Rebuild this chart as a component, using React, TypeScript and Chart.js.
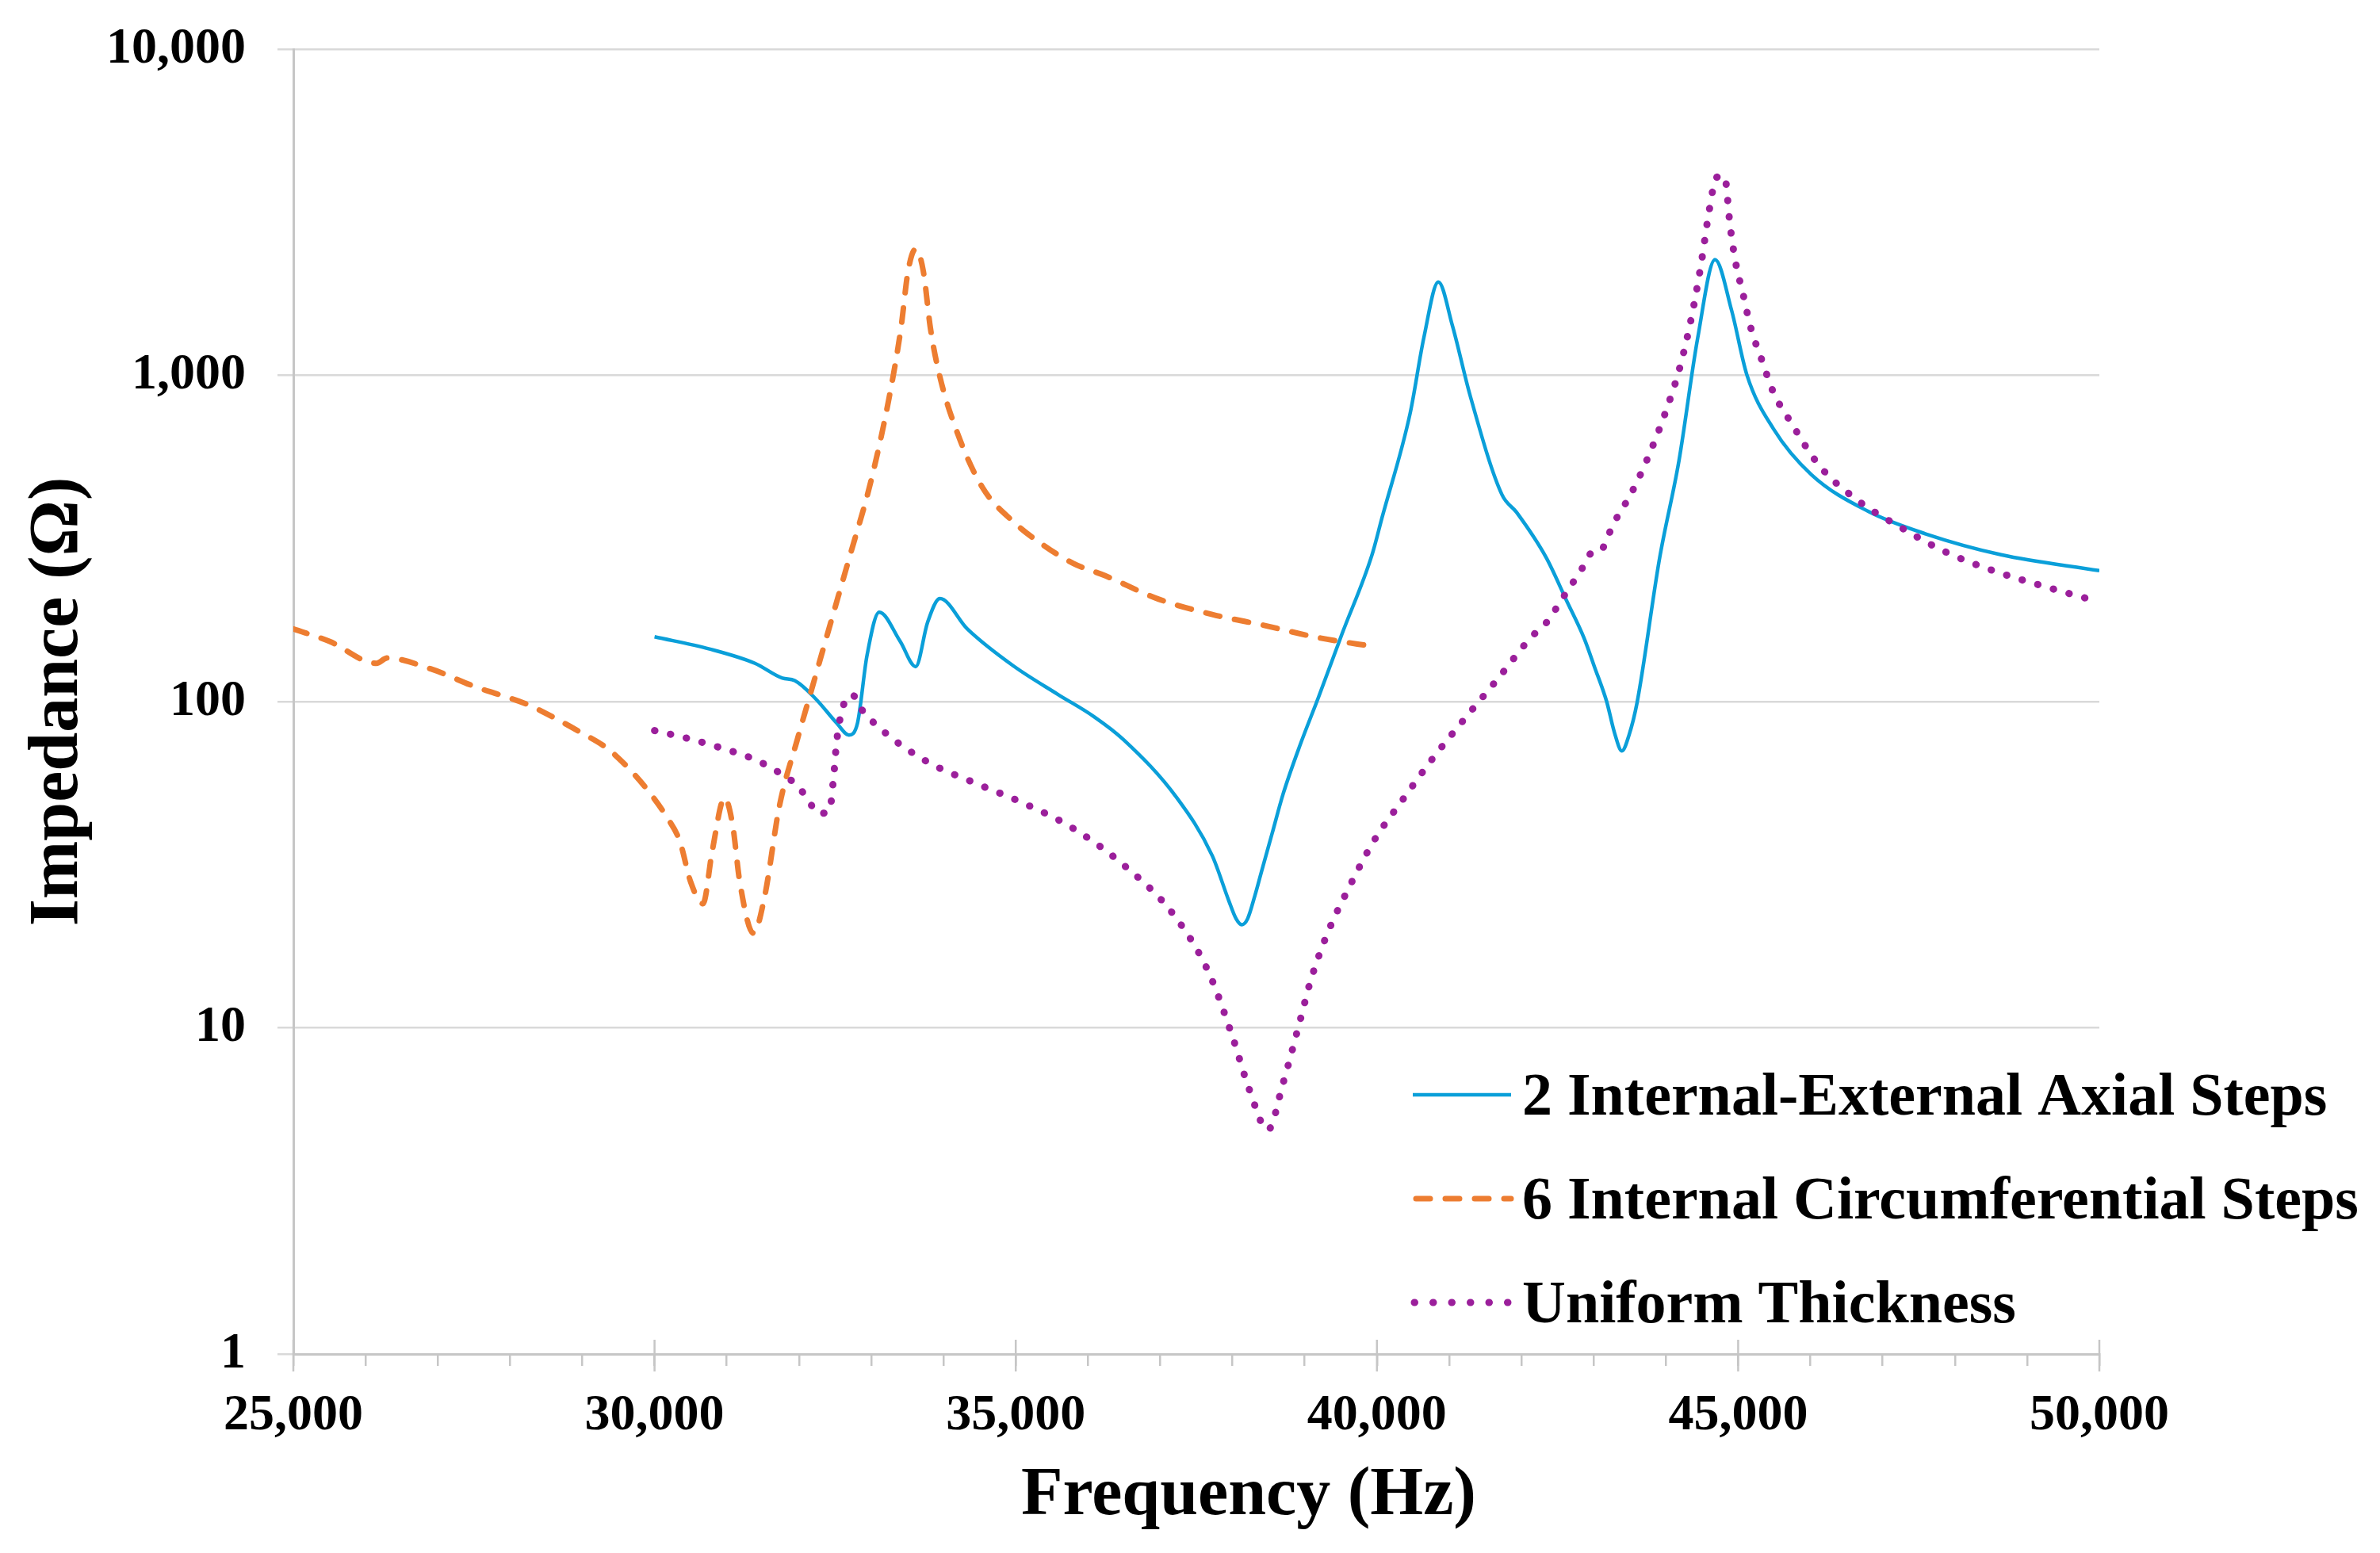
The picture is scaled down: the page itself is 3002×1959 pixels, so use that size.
import { useEffect, useRef } from "react"
import { Chart, registerables } from "chart.js"

Chart.register(...registerables)

const FONT = "'Liberation Serif', 'Times New Roman', serif"

// series names (legend order)
const seriesNames = [
  "2 Internal-External Axial Steps",
  "6 Internal Circumferential Steps",
  "Uniform Thickness",
]
const seriesColors = ["#0A9FD9", "#ED7D31", "#9B1F9B"]

// 2 Internal-External Axial Steps
const axialFreq = [
  30000, 30760, 31390, 31770, 31940, 32230, 32520, 32690, 32810, 32940, 33110, 33400, 33615, 33780,
  33950, 34330, 34960, 35590, 36080, 36490, 37230, 37720, 37950, 38050, 38130, 38210, 38310, 38400,
  38550, 38700, 38940, 39190, 39520, 39930, 40070, 40460, 40650, 40850, 41045, 41290, 41730, 41930,
  42340, 42620, 42870, 43010, 43180, 43290, 43390, 43490, 43600, 43915, 44180, 44440, 44680, 44910,
  45120, 45490, 46015, 46800, 47590, 48640, 50000,
]
const axialZ = [
  158, 145, 131, 118, 116, 102, 86, 79, 86, 138, 188, 153, 128, 175,
  207, 167, 129, 105, 90, 76.5, 50.7, 33.7, 24.5, 21.6, 20.7, 21.6, 25.4, 30,
  39.5, 52, 74, 103, 162, 281, 366, 766, 1307, 1933, 1420, 867, 431, 381,
  277, 205, 156, 128, 100, 80, 70.6, 79, 99, 277, 546, 1301, 2265, 1580,
  1005, 685, 496, 383, 327, 282, 252,
]

// 6 Internal Circumferential Steps
const circFreq = [
  25000, 25500, 26150, 26300, 26900, 27520, 27850, 28240, 28620, 28980, 29340, 29640, 29920, 30160,
  30350, 30500, 30670, 30800, 30970, 31080, 31180, 31370, 31520, 31730, 31980, 32190, 32440, 32690,
  32990, 33240, 33410, 33510, 33615, 33720, 33820, 33950, 34200, 34540, 34960, 35380, 35800, 36240,
  36980, 37720, 38450, 39190, 40000,
]
const circZ = [
  167, 153, 131, 136, 126, 111, 105, 98, 89, 80.4, 72, 62.5, 53, 44.6,
  37.3, 28, 24, 35, 50.7, 42, 28, 19.5, 25, 48, 77, 112, 175, 273,
  469, 838, 1390, 2090, 2440, 2090, 1390, 990, 659, 453, 357, 302, 265, 243,
  206, 185, 171, 157, 147,
]

// Uniform Thickness
const uniformFreq = [
  30000, 30470, 30930, 31390, 31790, 31980, 32120, 32270, 32420, 32480, 32520, 32600, 32735, 32860,
  33200, 33780, 34460, 35090, 35760, 36490, 37180, 37670, 38000, 38230, 38490, 38700, 38940, 39080,
  39320, 39620, 39960, 40370, 40780, 41240, 41680, 42140, 42340, 42580, 42840, 42970, 43075, 43280,
  43520, 43730, 43990, 44200, 44360, 44490, 44600, 44700, 44810, 44890, 44960, 45070, 45170, 45330,
  45490, 45730, 46120, 46640, 47250, 47880, 48530, 49220, 50000,
]
const uniformZ = [
  81.5, 77, 72, 66.4, 59.3, 55.2, 50.2, 45.4, 46.2, 59, 75, 95, 105, 95,
  80, 65.3, 56, 49, 41.3, 31.6, 22.3, 14.8, 9.4, 6.5, 4.86, 6.76, 10.6, 13.9,
  19.6, 27.1, 37.5, 50.5, 67.3, 90, 118, 158, 174, 209, 256, 285, 287, 353,
  435, 546, 766, 1072, 1529, 2214, 3206, 4044, 4084, 2862, 2249, 1768, 1412, 1110,
  885, 718, 530, 416, 342, 287, 252, 226, 202,
]

const yTicks = [1, 10, 100, 1000, 10000]
const xMajorTicks = [25000, 30000, 35000, 40000, 45000, 50000]
const xTitle = "Frequency (Hz)"
const yTitle = "Impedance (Ω)"

const zip = (xs: number[], ys: number[]) => xs.map((x, i) => ({ x, y: ys[i] }))

const decorPlugin = {
  id: "decor",
  afterDraw(chart: Chart) {
    const { ctx, chartArea, scales } = chart
    const xs = scales.x
    ctx.save()

    // major ticks crossing the x axis
    ctx.strokeStyle = "#c6c6c6"
    ctx.lineWidth = 2.5
    xMajorTicks.forEach((v) => {
      const px = xs.getPixelForValue(v)
      ctx.beginPath()
      ctx.moveTo(px, chartArea.bottom - 18)
      ctx.lineTo(px, chartArea.bottom + 22)
      ctx.stroke()
    })

    // axis titles
    ctx.fillStyle = "#000"
    ctx.font = `bold 86px ${FONT}`
    ctx.textAlign = "center"
    ctx.textBaseline = "alphabetic"
    ctx.fillText(xTitle, 1575, 1910)

    ctx.save()
    ctx.translate(97, (chartArea.top + chartArea.bottom) / 2)
    ctx.rotate(-Math.PI / 2)
    ctx.font = `bold 88px ${FONT}`
    ctx.fillText(yTitle, 0, 0)
    ctx.restore()

    // legend
    const baselines = [1406, 1537, 1668]
    ctx.font = `bold 76px ${FONT}`
    ctx.textAlign = "left"
    seriesNames.forEach((name, i) => {
      const ly = baselines[i] - 25
      ctx.beginPath()
      ctx.strokeStyle = seriesColors[i]
      if (i === 0) {
        ctx.lineWidth = 4.5
        ctx.setLineDash([])
        ctx.lineCap = "butt"
        ctx.moveTo(1782, ly)
        ctx.lineTo(1906, ly)
      } else if (i === 1) {
        ctx.lineWidth = 7
        ctx.setLineDash([18, 19])
        ctx.lineCap = "round"
        ctx.moveTo(1786, ly)
        ctx.lineTo(1906, ly)
      } else {
        ctx.lineWidth = 9
        ctx.setLineDash([0.5, 23])
        ctx.lineCap = "round"
        ctx.moveTo(1784, ly)
        ctx.lineTo(1906, ly)
      }
      ctx.stroke()
      ctx.setLineDash([])
      ctx.fillStyle = "#000"
      ctx.fillText(name, 1920, baselines[i])
    })

    ctx.restore()
  },
}

export default function App() {
  const chartRef = useRef<HTMLCanvasElement>(null)
  const chartInstance = useRef<Chart | null>(null)

  useEffect(() => {
    if (!chartRef.current) return

    if (chartInstance.current) {
      chartInstance.current.destroy()
    }

    const ctx = chartRef.current.getContext("2d")
    if (!ctx) return

    chartInstance.current = new Chart(ctx, {
      type: "line",
      data: {
        datasets: [
          {
            label: seriesNames[0],
            data: zip(axialFreq, axialZ),
            borderColor: seriesColors[0],
            borderWidth: 4.5,
            pointRadius: 0,
            cubicInterpolationMode: "monotone",
            order: 3,
          },
          {
            label: seriesNames[1],
            data: zip(circFreq, circZ),
            borderColor: seriesColors[1],
            borderWidth: 7,
            borderDash: [18, 19],
            borderCapStyle: "round",
            pointRadius: 0,
            cubicInterpolationMode: "monotone",
            order: 2,
          },
          {
            label: seriesNames[2],
            data: zip(uniformFreq, uniformZ),
            borderColor: seriesColors[2],
            borderWidth: 9,
            borderDash: [0.5, 20],
            borderCapStyle: "round",
            pointRadius: 0,
            cubicInterpolationMode: "monotone",
            order: 1,
          },
        ],
      },
      options: {
        animation: false,
        responsive: true,
        maintainAspectRatio: false,
        devicePixelRatio: 1,
        layout: {
          padding: { left: 0, right: 354, top: 62, bottom: 0 },
        },
        scales: {
          x: {
            type: "linear",
            min: 25000,
            max: 50000,
            afterFit: (scale) => {
              scale.height = 251
              scale.paddingLeft = 0
              scale.paddingRight = 0
            },
            ticks: {
              stepSize: 1000,
              autoSkip: false,
              maxRotation: 0,
              padding: 25,
              color: "#000",
              font: { family: FONT, weight: "bold", size: 64 },
              callback: (value) =>
                Number(value) % 5000 === 0 ? Number(value).toLocaleString("en-US") : "",
            },
            grid: {
              drawOnChartArea: false,
              drawTicks: true,
              tickLength: 15,
              color: "#c6c6c6",
              lineWidth: 2.5,
            },
            border: { display: true, color: "#c6c6c6", width: 3 },
          },
          y: {
            type: "logarithmic",
            min: 1,
            max: 10000,
            afterFit: (scale) => {
              scale.width = 370
              scale.paddingTop = 0
              scale.paddingBottom = 0
            },
            afterBuildTicks: (scale) => {
              scale.ticks = yTicks.map((value) => ({ value }))
            },
            ticks: {
              padding: 40,
              color: "#000",
              font: { family: FONT, weight: "bold", size: 64 },
              callback: (value) => Number(value).toLocaleString("en-US"),
            },
            grid: {
              drawTicks: true,
              tickLength: 20,
              color: "#d9d9d9",
              lineWidth: 2.5,
            },
            border: { display: true, color: "#c6c6c6", width: 3 },
          },
        },
        plugins: {
          legend: { display: false },
          tooltip: { enabled: false },
        },
      },
      plugins: [decorPlugin],
    })

    return () => {
      if (chartInstance.current) {
        chartInstance.current.destroy()
        chartInstance.current = null
      }
    }
  }, [])

  return (
    <div
      style={{
        position: "absolute",
        left: 0,
        top: 0,
        width: "3002px",
        height: "1959px",
        background: "#fff",
      }}
    >
      <canvas ref={chartRef} />
    </div>
  )
}
